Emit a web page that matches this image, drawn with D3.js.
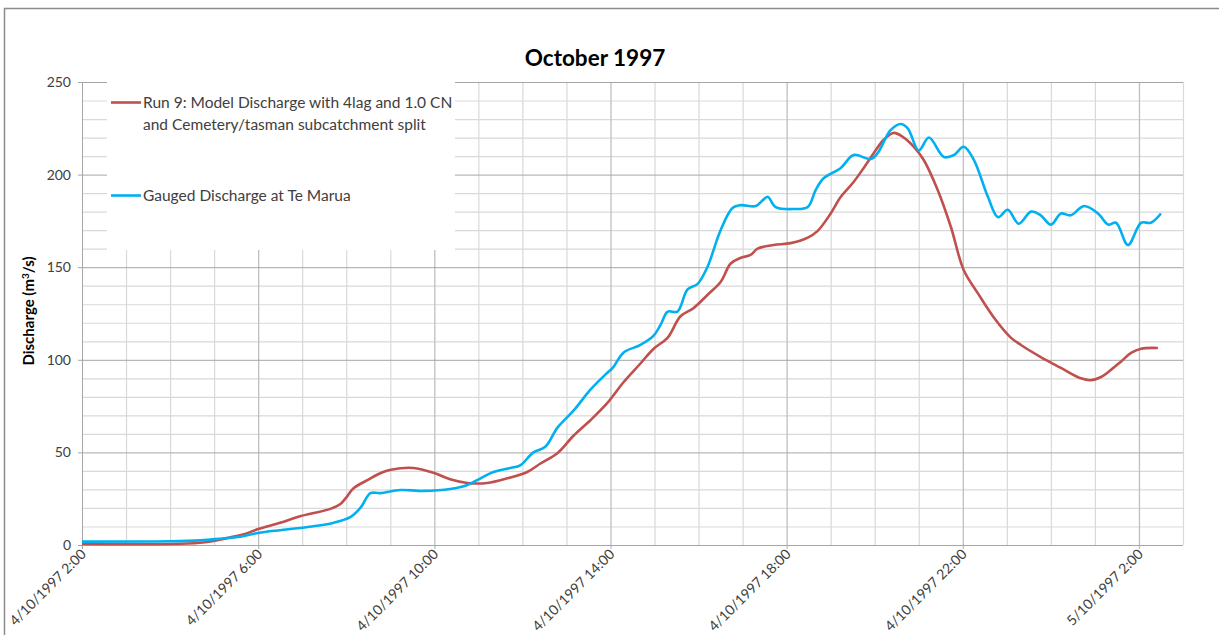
<!DOCTYPE html>
<head>
  <meta charset="utf-8">
  <script src="https://d3js.org/d3.v7.min.js"></script>
  <style>
    body { margin: 0; background: #fff; }
    svg { width: 1219px; height: 635px; display: block; }
    text { font-family: Lato, "Open Sans", sans-serif; }
  </style>
</head>

<body>
  <svg></svg>

  <script>
    const width = 1219;
    const height = 635;

    // start of the record: 4/10/1997 2:00 (hours below are offsets from it)
    const startTime = new Date(1997, 9, 4, 2, 0);
    const endHour = 25;

    const modelName = 'Run 9: Model Discharge with 4lag and 1.0 CN';
    const modelName2 = 'and Cemetery/tasman subcatchment split';
    const gaugedName = 'Gauged Discharge at Te Marua';

    // model discharge (m3/s)
    const modelHours = [0, 2.0, 2.68, 3.02, 3.3, 3.7, 4.0, 4.5, 4.95, 5.64, 5.86, 5.98, 6.16, 6.48, 6.84,
      7.23, 7.52, 7.98, 8.36, 8.75, 9.2, 9.66, 10.11, 10.41, 10.8, 11.16, 11.55, 11.93, 12.3, 12.68,
      12.98, 13.3, 13.59, 13.89, 14.2, 14.5, 14.73, 14.95, 15.18, 15.34, 15.7, 16.09, 16.48, 16.7,
      17.0, 17.23, 17.52, 17.75, 17.98, 18.2, 18.43, 18.66, 18.89, 19.11, 19.43, 19.73, 20.02, 20.34,
      20.7, 21.09, 21.32, 21.77, 22.23, 22.68, 22.91, 23.14, 23.36, 23.59, 23.82, 24.05, 24.43];
    const modelValues = [0.5, 0.5, 1.2, 2.3, 3.8, 6, 8.6, 12, 15.5, 19.5, 22, 25, 30.5, 35, 39.4,
      41.4, 41.6, 39, 35.5, 33.5, 33.5, 36, 39.4, 44, 49.7, 59, 67.5, 76.7, 88, 98,
      106, 112, 123.5, 128, 135, 142, 152, 155, 156.6, 160, 162, 163, 166, 169.5,
      179, 188, 196, 203.6, 211.7, 218.7, 222.5, 220, 215, 208, 191.7, 171.7, 148.5, 136,
      123, 112, 108, 101.5, 95.6, 90, 89, 90.7, 94.5, 99, 103.7, 106, 106.4];

    // gauged discharge (m3/s)
    const gaugedHours = [0, 2.0, 2.68, 3.18, 3.59, 4.0, 4.5, 4.95, 5.7, 6.09, 6.32, 6.55, 6.77, 7.23,
      7.75, 8.36, 8.75, 9.05, 9.34, 9.73, 9.95, 10.25, 10.52, 10.8, 11.16, 11.55, 11.93, 12.05, 12.3,
      12.68, 12.98, 13.14, 13.3, 13.52, 13.75, 13.98, 14.2, 14.5, 14.77, 14.95, 15.3, 15.45, 15.57,
      15.75, 16.16, 16.48, 16.66, 16.84, 17.23, 17.52, 17.91, 18.07, 18.36, 18.59, 18.75, 19.0, 19.23,
      19.57, 19.8, 20.02, 20.25, 20.57, 20.8, 21.02, 21.27, 21.55, 21.77, 22.0, 22.23, 22.45, 22.75,
      23.07, 23.3, 23.48, 23.75, 24.05, 24.27, 24.5];
    const gaugedValues = [1.8, 2, 2.5, 3.5, 4.5, 6.5, 8, 9.2, 11.9, 15, 20, 28, 28, 29.7,
      29.2, 30.2, 32.4, 36, 39.4, 41.6, 43, 50, 53, 63.5, 72.5, 84, 93, 95.6, 104,
      108, 113, 119, 126, 126, 138, 141, 150, 170, 182, 183.5, 183, 186, 188,
      182.5, 181.4, 182.5, 191.7, 198, 203.6, 210.6, 208.4, 211.7, 224, 227.3, 225, 213, 220,
      209.5, 210.6, 215, 208, 188, 177, 181, 173.5, 180, 178, 173, 179, 178, 183,
      179, 173, 174, 162, 174, 174, 179];

    const yTicks = [0, 50, 100, 150, 200, 250];
    const xTickHours = [0, 4, 8, 12, 16, 20, 24];

    const margin = { left: 82, right: 1183, top: 82, bottom: 545 };
    const hourMs = 3600 * 1000;
    const toDate = h => new Date(startTime.getTime() + h * hourMs);

    const x = d3.scaleTime()
      .domain([startTime, toDate(endHour)])
      .range([margin.left, margin.right]);
    const y = d3.scaleLinear()
      .domain([0, 250])
      .range([margin.bottom, margin.top]);

    const svg = d3.select('svg');

    // outer chart border
    svg.append('rect')
      .attr('x', 4.5).attr('y', 8.5)
      .attr('width', 1300).attr('height', 700)
      .attr('fill', '#fff')
      .attr('stroke', '#8c8c8c')
      .attr('stroke-width', 1.5);

    const grid = svg.append('g');

    // minor horizontal grid every 10
    grid.selectAll('.hmin').data(d3.range(10, 250, 10).filter(v => v % 50))
      .enter().append('line')
      .attr('x1', margin.left).attr('x2', margin.right)
      .attr('y1', d => y(d) + 0.5).attr('y2', d => y(d) + 0.5)
      .attr('stroke', '#d9d9d9').attr('stroke-width', 1.2);

    // minor vertical grid every hour
    grid.selectAll('.vmin').data(d3.range(1, endHour + 1).filter(h => h % 4))
      .enter().append('line')
      .attr('x1', d => x(toDate(d)) + 0.5).attr('x2', d => x(toDate(d)) + 0.5)
      .attr('y1', margin.top).attr('y2', margin.bottom)
      .attr('stroke', '#d9d9d9').attr('stroke-width', 1.2);

    // major vertical grid every 4 hours
    grid.selectAll('.vmaj').data(xTickHours.slice(1))
      .enter().append('line')
      .attr('x1', d => x(toDate(d)) + 0.5).attr('x2', d => x(toDate(d)) + 0.5)
      .attr('y1', margin.top).attr('y2', margin.bottom + 4)
      .attr('stroke', '#bfbfbf').attr('stroke-width', 1.3);

    // major horizontal grid every 50
    grid.selectAll('.hmaj').data(yTicks)
      .enter().append('line')
      .attr('x1', margin.left - 4).attr('x2', margin.right)
      .attr('y1', d => y(d) + 0.5).attr('y2', d => y(d) + 0.5)
      .attr('stroke', '#a6a6a6').attr('stroke-width', 1);

    // left axis line
    svg.append('line')
      .attr('x1', margin.left + 0.5).attr('x2', margin.left + 0.5)
      .attr('y1', margin.top).attr('y2', margin.bottom + 4)
      .attr('stroke', '#a6a6a6');

    // y tick labels
    svg.selectAll('.ylab').data(yTicks)
      .enter().append('text')
      .attr('x', margin.left - 11)
      .attr('y', d => y(d) + 5)
      .attr('text-anchor', 'end')
      .attr('font-size', 14)
      .attr('fill', '#404040')
      .text(d => d);

    // x tick labels, rotated
    const fmt = d3.timeFormat('%-d/%m/%Y %-H:%M');
    svg.selectAll('.xlab').data(xTickHours)
      .enter().append('text')
      .attr('transform', d => `translate(${x(toDate(d)) + 5},${margin.bottom + 10})rotate(-45)`)
      .attr('text-anchor', 'end')
      .attr('font-size', 14)
      .attr('fill', '#404040')
      .text(d => fmt(toDate(d)));

    // series
    const line = d3.line()
      .x(d => x(toDate(d[0])))
      .y(d => y(d[1]))
      .curve(d3.curveCatmullRom.alpha(0.5));

    svg.append('path')
      .attr('d', line(d3.zip(modelHours, modelValues)))
      .attr('fill', 'none')
      .attr('stroke', '#c0504d')
      .attr('stroke-width', 2.6);

    svg.append('path')
      .attr('d', line(d3.zip(gaugedHours, gaugedValues)))
      .attr('fill', 'none')
      .attr('stroke', '#00b0f0')
      .attr('stroke-width', 2.6);

    // legend on a white box over the grid
    svg.append('rect')
      .attr('x', 107).attr('y', 80)
      .attr('width', 348).attr('height', 170)
      .attr('fill', '#fff');

    const legend = svg.append('g');
    legend.append('line')
      .attr('x1', 111).attr('x2', 141).attr('y1', 102.5).attr('y2', 102.5)
      .attr('stroke', '#c0504d').attr('stroke-width', 2.6);
    legend.append('text')
      .attr('x', 143).attr('y', 108)
      .attr('font-size', 15.5).attr('fill', '#404040')
      .text(modelName);
    legend.append('text')
      .attr('x', 143).attr('y', 130)
      .attr('font-size', 15.5).attr('fill', '#404040')
      .text(modelName2);
    legend.append('line')
      .attr('x1', 111).attr('x2', 141).attr('y1', 195.5).attr('y2', 195.5)
      .attr('stroke', '#00b0f0').attr('stroke-width', 2.6);
    legend.append('text')
      .attr('x', 143).attr('y', 201)
      .attr('font-size', 15.5).attr('fill', '#404040')
      .text(gaugedName);

    // title
    svg.append('text')
      .attr('x', 595).attr('y', 66)
      .attr('text-anchor', 'middle')
      .attr('font-size', 22.5).attr('font-weight', 'bold')
      .attr('fill', '#000')
      .text('October 1997');

    // y axis title
    const ytitle = svg.append('text')
      .attr('transform', 'translate(34,311)rotate(-90)')
      .attr('text-anchor', 'middle')
      .attr('font-size', 15).attr('font-weight', 'bold')
      .attr('fill', '#000');
    ytitle.append('tspan').text('Discharge (m');
    ytitle.append('tspan').attr('font-size', 10).attr('dy', -5).text('3');
    ytitle.append('tspan').attr('dy', 5).text('/s)');
  </script>
</body>
